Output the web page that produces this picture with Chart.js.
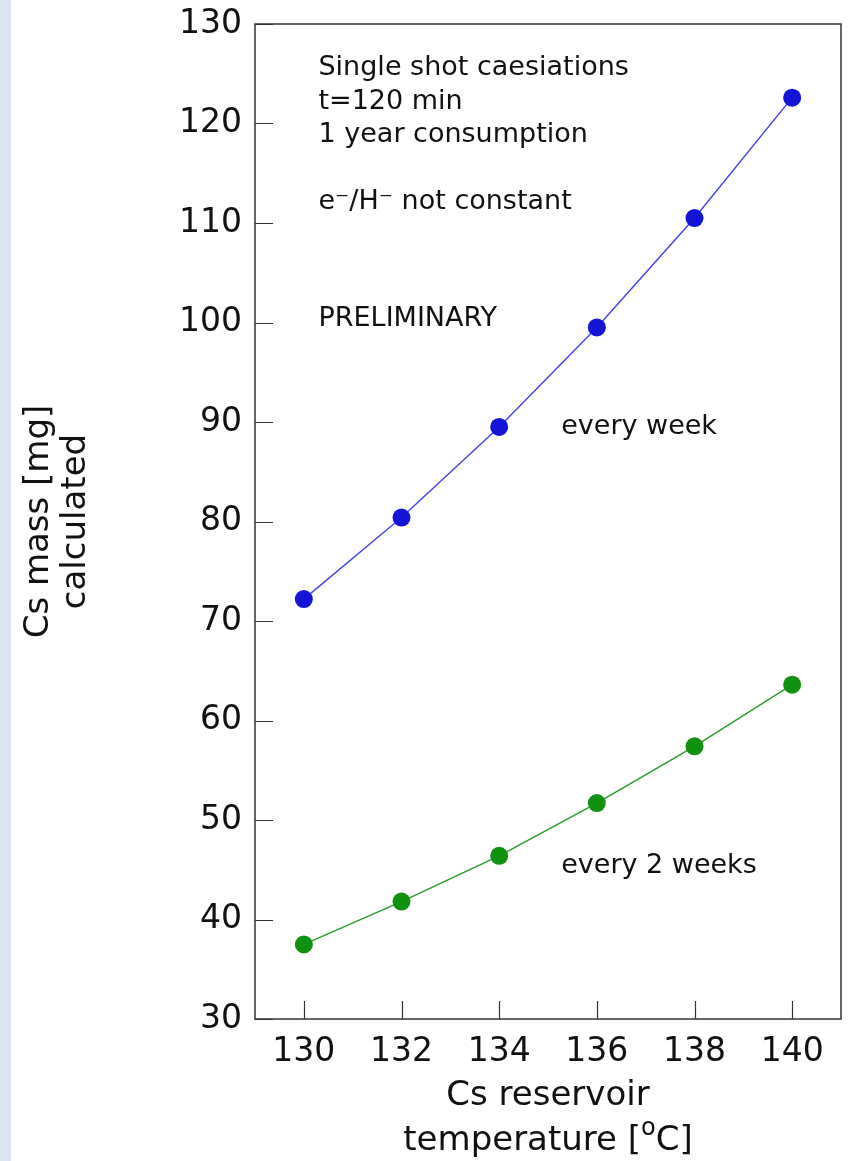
<!DOCTYPE html>
<html>
<head>
    <meta charset="UTF-8">
    <title>Cs mass vs reservoir temperature</title>
    <style>
        body { margin: 0; background: #fff; }
        .strip { position: absolute; left: 0; top: 0; width: 11px; height: 1161px; background: #dce6f2; }
        #chart { display: block; }
    </style>
    <script src="https://cdn.jsdelivr.net/npm/chart.js@4.4.1/dist/chart.umd.min.js"></script>
</head>
<body>
    <div class="strip"></div>
    <canvas id="chart" width="850" height="1161"></canvas>

    <script>
        // data
        const temps = [130, 132, 134, 136, 138, 140];
        const everyWeek = [72.2, 80.4, 89.5, 99.5, 110.5, 122.6];
        const every2Weeks = [37.5, 41.8, 46.4, 51.7, 57.4, 63.6];
        const xTicks = [130, 132, 134, 136, 138, 140];
        const yTicks = [30, 40, 50, 60, 70, 80, 90, 100, 110, 120, 130];

        // text notes inside the plot, in data units
        const notes = [
            { text: 'Single shot caesiations', x: 130.3, y: 125.6 },
            { text: 't=120 min', x: 130.3, y: 122.2 },
            { text: '1 year consumption', x: 130.3, y: 118.8 },
            { text: 'e\u207B/H\u207B not constant', x: 130.3, y: 112.1 },
            { text: 'PRELIMINARY', x: 130.3, y: 100.4 },
            { text: 'every week', x: 135.27, y: 89.5 },
            { text: 'every 2 weeks', x: 135.27, y: 45.4 }
        ];

        const font = 'DejaVu Sans';

        // frame, inward ticks, notes and the x title (needs a superscript o)
        const framePlugin = {
            id: 'frame',
            afterDraw(chart) {
                const { ctx, chartArea: a, scales } = chart;
                ctx.save();
                ctx.strokeStyle = '#333';
                ctx.lineWidth = 1.5;
                ctx.strokeRect(a.left, a.top, a.right - a.left, a.bottom - a.top);
                ctx.beginPath();
                scales.y.ticks.forEach(t => {
                    const py = Math.round(scales.y.getPixelForValue(t.value)) + 0.5;
                    ctx.moveTo(a.left, py);
                    ctx.lineTo(a.left + 18, py);
                });
                scales.x.ticks.forEach(t => {
                    const px = Math.round(scales.x.getPixelForValue(t.value)) + 0.5;
                    ctx.moveTo(px, a.bottom);
                    ctx.lineTo(px, a.bottom - 18);
                });
                ctx.lineWidth = 1.2;
                ctx.stroke();

                ctx.fillStyle = '#111';
                ctx.font = '27px "' + font + '"';
                ctx.textBaseline = 'middle';
                ctx.textAlign = 'left';
                notes.forEach(n => {
                    ctx.fillText(n.text, scales.x.getPixelForValue(n.x), scales.y.getPixelForValue(n.y));
                });

                // x axis title
                const cx = (a.left + a.right) / 2;
                ctx.font = '34px "' + font + '"';
                ctx.textAlign = 'center';
                ctx.fillText('Cs reservoir', cx, 1096);
                const p1 = 'temperature [', p2 = 'o', p3 = 'C]';
                const w1 = ctx.measureText(p1).width, w3 = ctx.measureText(p3).width;
                ctx.font = '24px "' + font + '"';
                const w2 = ctx.measureText(p2).width;
                let x0 = cx - (w1 + w2 + w3) / 2;
                ctx.textAlign = 'left';
                ctx.font = '34px "' + font + '"';
                ctx.fillText(p1, x0, 1141);
                ctx.font = '24px "' + font + '"';
                ctx.fillText(p2, x0 + w1, 1129);
                ctx.font = '34px "' + font + '"';
                ctx.fillText(p3, x0 + w1 + w2, 1141);
                ctx.restore();
            }
        };

        new Chart(document.getElementById('chart'), {
            type: 'line',
            data: {
                datasets: [
                    {
                        label: 'every week',
                        data: temps.map((t, i) => ({ x: t, y: everyWeek[i] })),
                        borderColor: '#4646ee',
                        backgroundColor: '#1414d6',
                        borderWidth: 1.5,
                        pointRadius: 9,
                        pointBorderWidth: 0
                    },
                    {
                        label: 'every 2 weeks',
                        data: temps.map((t, i) => ({ x: t, y: every2Weeks[i] })),
                        borderColor: '#2a9e2a',
                        backgroundColor: '#109210',
                        borderWidth: 1.5,
                        pointRadius: 9,
                        pointBorderWidth: 0
                    }
                ]
            },
            options: {
                responsive: false,
                animation: false,
                layout: { padding: { top: 24, right: 0, left: 0, bottom: 0 } },
                plugins: { legend: { display: false }, tooltip: { enabled: false } },
                scales: {
                    x: {
                        type: 'linear',
                        min: 129,
                        max: 141,
                        grid: { display: false, drawTicks: false },
                        border: { display: false },
                        afterBuildTicks: s => { s.ticks = xTicks.map(v => ({ value: v })); },
                        afterFit: s => { s.height = 142; s.paddingLeft = 0; s.paddingRight = 0; },
                        ticks: { color: '#111', padding: 14, font: { family: font, size: 33 } }
                    },
                    y: {
                        min: 30,
                        max: 130,
                        grid: { display: false, drawTicks: false },
                        border: { display: false },
                        afterBuildTicks: s => { s.ticks = yTicks.map(v => ({ value: v })); },
                        afterFit: s => { s.width = 255; s.paddingTop = 0; s.paddingBottom = 0; },
                        ticks: { color: '#111', padding: 13, font: { family: font, size: 33 } },
                        title: {
                            display: true,
                            text: ['Cs mass [mg]', 'calculated'],
                            color: '#111',
                            padding: { top: 20, bottom: 0 },
                            font: { family: font, size: 34, lineHeight: 1.1 }
                        }
                    }
                }
            },
            plugins: [framePlugin]
        });
    </script>
</body>
</html>
